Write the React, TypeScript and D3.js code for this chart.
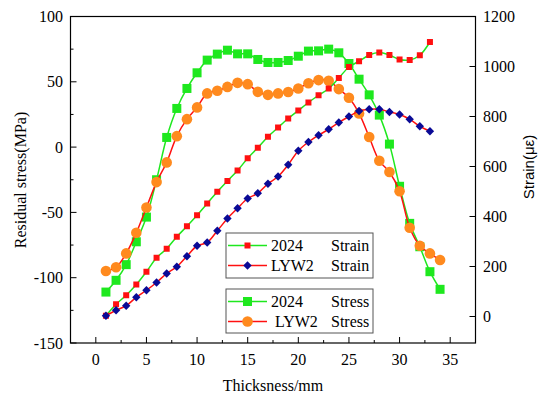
import React from "react";
import * as d3 from "d3";

// Thickness positions (mm)
const thickStress: number[] = Array.from({ length: 34 }, (_, i) => i + 1);
const thickStrain: number[] = Array.from({ length: 33 }, (_, i) => i + 1);

// Residual stress (MPa)
const stress2024: number[] = [
  -111, -102, -90, -72.5, -53.6, -25, 7.4, 29.6, 44.9, 56.9, 66.6, 71.2, 74.2, 71.4, 71.4,
  67.1, 64.8, 64.8, 66.3, 69.6, 73.5, 73.7, 75, 72.2, 64, 52, 40, 24.5, 2.3, -30, -58.4,
  -76.3, -95.4, -108.9,
];
const stressLYW2: number[] = [
  -94.9, -92, -81.4, -65.6, -46.2, -26.8, -11.7, 8.4, 21.4, 30.4, 41.1, 43.1, 46.1, 49.2,
  48.2, 42.3, 40, 41.1, 42.2, 44.9, 48.9, 51.3, 50.8, 44.4, 37.8, 25.8, 7.7, -10.5, -19.1,
  -33.8, -61.7, -75.5, -81.4, -86.5,
];

// Strain (µε)
const strain2024: number[] = [
  3, 49, 85, 128, 179, 235, 271, 319, 361, 405, 452, 499, 542, 584, 633, 675, 719, 756,
  792, 824, 856, 885, 912, 954, 998, 1021, 1046, 1056, 1046, 1028, 1026, 1045, 1098,
];
const strainLYW2: number[] = [
  3, 25, 43, 77, 105, 136, 172, 199, 241, 283, 296, 343, 392, 433, 472, 493, 531, 560,
  607, 663, 698, 725, 749, 776, 800, 822, 829, 829, 818, 808, 789, 761, 741,
];

const xTicks: number[] = [0, 5, 10, 15, 20, 25, 30, 35];
const yLeftTicks: number[] = [-150, -100, -50, 0, 50, 100];
const yRightTicks: number[] = [0, 200, 400, 600, 800, 1000, 1200];

const W = 539;
const H = 396;
const L = 70.5;
const R = 475.5;
const T = 16.5;
const B = 343;

const GREEN = "#1ee81e";
const RED = "#ff1010";
const ORANGE = "#ff8a1e";
const BLUE = "#0a0a96";
const SERIF = "'Liberation Serif', 'Times New Roman', serif";
const SANS = "'Liberation Sans', Arial, sans-serif";

type Marker = "bigSquare" | "circle" | "smallSquare" | "diamond";

function MarkerShape({ kind, x, y }: { kind: Marker; x: number; y: number }) {
  if (kind === "bigSquare") return <rect x={x - 4.5} y={y - 4.5} width={9} height={9} fill={GREEN} />;
  if (kind === "circle") return <circle cx={x} cy={y} r={5.3} fill={ORANGE} />;
  if (kind === "smallSquare") return <rect x={x - 3} y={y - 3} width={6} height={6} fill={RED} />;
  return <path d={`M${x},${y - 4.2}L${x + 4.2},${y}L${x},${y + 4.2}L${x - 4.2},${y}Z`} fill={BLUE} />;
}

export default function App() {
  const x = d3.scaleLinear().domain([-2.5, 37.5]).range([L, R]);
  const yL = d3.scaleLinear().domain([-150, 100]).range([B, T]);
  const yR = d3.scaleLinear().domain([-106, 1200]).range([B, T]);

  const series = [
    { xs: thickStress, ys: stress2024, scale: yL, line: GREEN, marker: "bigSquare" as Marker },
    { xs: thickStress, ys: stressLYW2, scale: yL, line: RED, marker: "circle" as Marker },
    { xs: thickStrain, ys: strain2024, scale: yR, line: GREEN, marker: "smallSquare" as Marker },
    { xs: thickStrain, ys: strainLYW2, scale: yR, line: RED, marker: "diamond" as Marker },
  ];

  const xMinor = d3.range(-2.5, 37.6, 2.5).filter((v) => !xTicks.includes(v) && v > -2.5 && v < 37.5);
  const yMinor = d3.range(-125, 100, 50);

  const legendRows = [
    { y: 245.5, line: GREEN, marker: "smallSquare" as Marker, a: "2024", ax: 271, b: "Strain" },
    { y: 265.5, line: RED, marker: "diamond" as Marker, a: "LYW2", ax: 271, b: "Strain" },
    { y: 301.5, line: GREEN, marker: "bigSquare" as Marker, a: "2024", ax: 271, b: "Stress" },
    { y: 321.5, line: RED, marker: "circle" as Marker, a: "LYW2", ax: 275, b: "Stress" },
  ];

  return (
    <svg
      width={W}
      height={H}
      style={{ position: "absolute", left: 0, top: 0, background: "#fff" }}
    >
      <rect x={0} y={0} width={W} height={H} fill="#fff" />

      {/* data */}
      {series.map((s, i) => {
        const pts: [number, number][] = s.xs.map((t, j) => [x(t), s.scale(s.ys[j])]);
        const path = d3.line().curve(d3.curveCatmullRom.alpha(0.5))(pts) || "";
        return (
          <g key={i}>
            <path d={path} fill="none" stroke={s.line} strokeWidth={1.5} />
            {pts.map((p, j) => (
              <MarkerShape key={j} kind={s.marker} x={p[0]} y={p[1]} />
            ))}
          </g>
        );
      })}

      {/* frame */}
      <rect x={L} y={T} width={R - L} height={B - T} fill="none" stroke="#000" strokeWidth={1.2} />

      {/* x axis ticks */}
      {xTicks.map((t) => (
        <g key={t}>
          <line x1={x(t)} x2={x(t)} y1={B} y2={B - 6} stroke="#000" />
          <text x={x(t)} y={364.5} textAnchor="middle" fontFamily={SERIF} fontSize={16}>
            {t}
          </text>
        </g>
      ))}
      {xMinor.map((t) => (
        <line key={t} x1={x(t)} x2={x(t)} y1={B} y2={B - 3} stroke="#000" />
      ))}

      {/* left axis ticks */}
      {yLeftTicks.map((v) => (
        <g key={v}>
          <line x1={L} x2={L + 6} y1={yL(v)} y2={yL(v)} stroke="#000" />
          <text x={63} y={yL(v) + 5.5} textAnchor="end" fontFamily={SERIF} fontSize={16}>
            {v}
          </text>
        </g>
      ))}
      {yMinor.map((v) => (
        <line key={v} x1={L} x2={L + 3} y1={yL(v)} y2={yL(v)} stroke="#000" />
      ))}

      {/* right axis ticks */}
      {yRightTicks.map((v) => (
        <g key={v}>
          <line x1={R} x2={R - 6} y1={yR(v)} y2={yR(v)} stroke="#000" />
          <text x={483} y={yR(v) + 5.5} textAnchor="start" fontFamily={SERIF} fontSize={16}>
            {v}
          </text>
        </g>
      ))}

      {/* axis titles */}
      <text
        transform={`translate(25.5,180) rotate(-90)`}
        textAnchor="middle"
        fontFamily={SERIF}
        fontSize={16}
      >
        Residual stress(MPa)
      </text>
      <text
        transform={`translate(534,167) rotate(-90)`}
        textAnchor="middle"
        fontFamily={SANS}
        fontSize={15}
      >
        Strain(με)
      </text>
      <text x={273} y={391} textAnchor="middle" fontFamily={SERIF} fontSize={16}>
        Thicksness/mm
      </text>

      {/* legends */}
      <rect x={226} y={233} width={147} height={45} fill="#fff" stroke="#555" strokeWidth={1} />
      <rect x={226} y={289} width={147} height={44} fill="#fff" stroke="#555" strokeWidth={1} />
      {legendRows.map((r, i) => (
        <g key={i}>
          <line x1={228} x2={267} y1={r.y} y2={r.y} stroke={r.line} strokeWidth={1.5} />
          <MarkerShape kind={r.marker} x={247.5} y={r.y} />
          <text x={r.ax} y={r.y + 5.5} fontFamily={SERIF} fontSize={16}>
            {r.a}
          </text>
          <text x={331} y={r.y + 5.5} fontFamily={SERIF} fontSize={16}>
            {r.b}
          </text>
        </g>
      ))}
    </svg>
  );
}
